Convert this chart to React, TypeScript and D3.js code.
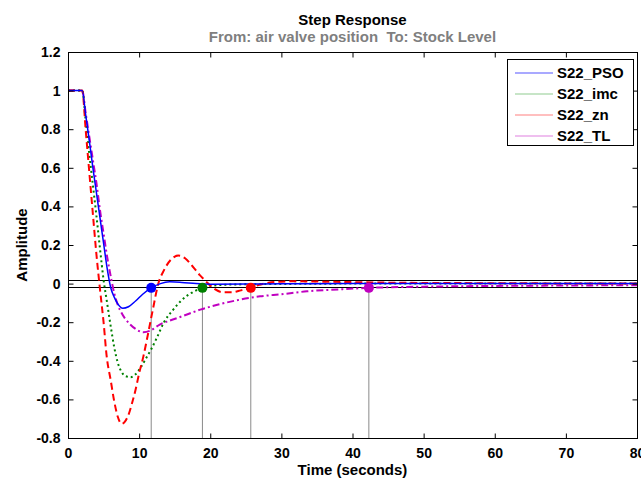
import { useEffect, useRef } from "react";
import * as d3 from "d3";

// step response samples (time in seconds, amplitude)
const psoT = [0, 2, 2.5, 3, 3.5, 4, 4.5, 5, 5.5, 6, 6.5, 7, 7.7, 8.5, 9.5, 10.5, 11.7, 13, 14.3, 16, 18, 20, 25, 30, 40, 60, 80];
const psoY = [1, 1, 0.87, 0.74, 0.6, 0.47, 0.34, 0.21, 0.08, -0.02, -0.07, -0.105, -0.128, -0.12, -0.09, -0.055, -0.022, 0.0, 0.009, 0.006, 0.0, -0.003, -0.002, -0.001, 0, 0, 0];

const imcT = [0, 2, 2.5, 3, 3.5, 4, 4.5, 5, 5.5, 6, 6.5, 7, 7.5, 8, 8.8, 9.5, 10.3, 11, 11.7, 12.5, 13.5, 14.8, 16, 17.5, 18.9, 20, 23, 30, 40, 80];
const imcY = [1, 1, 0.84, 0.67, 0.51, 0.35, 0.18, 0.02, -0.1, -0.22, -0.33, -0.41, -0.455, -0.478, -0.485, -0.47, -0.43, -0.385, -0.34, -0.28, -0.2, -0.135, -0.085, -0.045, -0.022, -0.012, -0.005, -0.002, 0, 0];

const znT = [0, 2, 2.5, 3, 3.5, 4, 4.5, 5, 5.44, 6, 6.5, 7, 7.55, 8, 8.5, 9, 9.5, 10, 10.6, 11.2, 11.9, 12.7, 13.5, 14.5, 15.5, 16.5, 17.5, 18.5, 19.3, 20.3, 21.8, 23, 24.3, 25.6, 27, 29, 32, 36, 45, 60, 80];
const znY = [1, 1, 0.79, 0.575, 0.36, 0.15, -0.03, -0.2, -0.377, -0.5, -0.61, -0.69, -0.727, -0.715, -0.68, -0.62, -0.55, -0.465, -0.377, -0.27, -0.14, 0.0, 0.07, 0.125, 0.145, 0.13, 0.09, 0.045, 0.015, -0.02, -0.045, -0.045, -0.035, -0.022, -0.005, 0.008, 0.012, 0.01, 0.005, 0.002, 0];

const tlT = [0, 2, 2.5, 3, 3.5, 4, 4.5, 5, 5.5, 6.1, 6.5, 7, 7.5, 8, 8.7, 9.5, 10.6, 11.5, 12.9, 14.3, 16, 18.6, 21, 24.2, 27, 30, 33.6, 38, 42.3, 50, 60, 70, 80];
const tlY = [1, 1, 0.88, 0.76, 0.64, 0.52, 0.38, 0.26, 0.14, 0.02, -0.05, -0.11, -0.15, -0.18, -0.21, -0.235, -0.252, -0.245, -0.212, -0.192, -0.17, -0.135, -0.11, -0.083, -0.066, -0.055, -0.04, -0.03, -0.022, -0.016, -0.012, -0.01, -0.008];

const seriesNames = ["S22_PSO", "S22_imc", "S22_zn", "S22_TL"];
const seriesColors = ["#0000ff", "#008000", "#ff0000", "#c000c0"];
const legendColors = ["#5555ff", "#8fcc8f", "#ff8080", "#e080e0"];
const seriesDash = ["", "2,3", "7,4", "7,3,2,3"];
const settleTimes = [11.7, 18.9, 25.7, 42.3];
const settleValue = -0.022;
const bandValues = [0.02, -0.02];

const xTicks = [0, 10, 20, 30, 40, 50, 60, 70, 80];
const yTicks = [-0.8, -0.6, -0.4, -0.2, 0, 0.2, 0.4, 0.6, 0.8, 1, 1.2];

const W = 641;
const H = 482;

const App = () => {
    const svgRef = useRef<SVGSVGElement>(null);
    const margin = { top: 52, right: 4, bottom: 44, left: 68 };

    useEffect(() => {
        const svg = d3.select(svgRef.current);
        svg.selectAll("*").remove();

        const x0 = margin.left;
        const x1 = W - margin.right;
        const y0 = margin.top;
        const y1 = H - margin.bottom;

        const xScale = d3.scaleLinear().domain([0, 80]).range([x0, x1]);
        const yScale = d3.scaleLinear().domain([-0.8, 1.2]).range([y1, y0]);

        const font = "'Liberation Sans', Arial, sans-serif";

        svg.append("rect").attr("width", W).attr("height", H).attr("fill", "#fff");

        // clip for curves
        svg.append("defs").append("clipPath").attr("id", "plotclip")
            .append("rect").attr("x", x0).attr("y", y0).attr("width", x1 - x0).attr("height", y1 - y0);

        const plot = svg.append("g").attr("clip-path", "url(#plotclip)");

        // settling time guide lines
        settleTimes.forEach((t) => {
            plot.append("line")
                .attr("x1", xScale(t)).attr("x2", xScale(t))
                .attr("y1", yScale(settleValue)).attr("y2", y1)
                .attr("stroke", "#8a8a8a").attr("stroke-width", 1);
        });

        // +-2% bands
        bandValues.forEach((v) => {
            plot.append("line")
                .attr("x1", x0).attr("x2", x1)
                .attr("y1", Math.round(yScale(v)) + 0.5).attr("y2", Math.round(yScale(v)) + 0.5)
                .attr("stroke", "#000").attr("stroke-width", 1);
        });

        const line = d3.line<[number, number]>()
            .x((d) => xScale(d[0]))
            .y((d) => yScale(d[1]))
            .curve(d3.curveMonotoneX);

        const allT = [psoT, imcT, znT, tlT];
        const allY = [psoY, imcY, znY, tlY];
        const order = [3, 1, 2, 0];
        order.forEach((i) => {
            const pts = allT[i].map((t, j) => [t, allY[i][j]] as [number, number]);
            plot.append("path")
                .attr("d", line(pts))
                .attr("fill", "none")
                .attr("stroke", seriesColors[i])
                .attr("stroke-width", i === 0 ? 1.5 : 2)
                .attr("stroke-dasharray", seriesDash[i] || null);
        });

        // settling markers
        settleTimes.forEach((t, i) => {
            plot.append("circle")
                .attr("cx", xScale(t)).attr("cy", yScale(settleValue))
                .attr("r", 5)
                .attr("fill", seriesColors[i]);
        });

        // axes box
        svg.append("rect")
            .attr("x", x0 + 0.5).attr("y", y0 + 0.5)
            .attr("width", x1 - x0).attr("height", y1 - y0)
            .attr("fill", "none").attr("stroke", "#000").attr("stroke-width", 1);

        const xAxis = d3.axisBottom(xScale).tickValues(xTicks).tickSize(-5).tickPadding(10).tickFormat(d3.format("d"));
        const yAxis = d3.axisLeft(yScale).tickValues(yTicks).tickSize(-5).tickPadding(8).tickFormat((d) => String(+(+d).toFixed(1)));

        const gx = svg.append("g").attr("transform", `translate(0, ${y1 + 0.5})`).call(xAxis);
        const gy = svg.append("g").attr("transform", `translate(${x0 + 0.5}, 0)`).call(yAxis);
        [gx, gy].forEach((g) => {
            g.select(".domain").remove();
            g.selectAll("text").attr("font-family", font).attr("font-weight", "bold").attr("font-size", 14).attr("fill", "#000");
            g.selectAll("line").attr("stroke", "#000");
        });

        // top and right ticks
        svg.append("g").attr("transform", `translate(0, ${y0 + 0.5})`)
            .call(d3.axisTop(xScale).tickValues(xTicks).tickSize(-5).tickFormat(() => ""))
            .call((g) => g.select(".domain").remove());
        svg.append("g").attr("transform", `translate(${x1 + 0.5}, 0)`)
            .call(d3.axisRight(yScale).tickValues(yTicks).tickSize(-5).tickFormat(() => ""))
            .call((g) => g.select(".domain").remove());

        // titles
        svg.append("text")
            .attr("x", (x0 + x1) / 2).attr("y", 25)
            .attr("text-anchor", "middle")
            .attr("font-family", font).attr("font-weight", "bold").attr("font-size", 15)
            .text("Step Response");
        svg.append("text")
            .attr("x", (x0 + x1) / 2).attr("y", 42)
            .attr("text-anchor", "middle")
            .attr("font-family", font).attr("font-weight", "bold").attr("font-size", 15)
            .attr("fill", "#7f7f7f")
            .text("From: air valve position  To: Stock Level")
            .attr("xml:space", "preserve")
            .style("white-space", "pre");

        svg.append("text")
            .attr("x", (x0 + x1) / 2).attr("y", 475)
            .attr("text-anchor", "middle")
            .attr("font-family", font).attr("font-weight", "bold").attr("font-size", 15)
            .text("Time (seconds)");
        svg.append("text")
            .attr("transform", "rotate(-90)")
            .attr("x", -(y0 + y1) / 2).attr("y", 27)
            .attr("text-anchor", "middle")
            .attr("font-family", font).attr("font-weight", "bold").attr("font-size", 15)
            .text("Amplitude");

        // legend
        const lg = svg.append("g");
        lg.append("rect")
            .attr("x", 507.5).attr("y", 59.5).attr("width", 126).attr("height", 86)
            .attr("fill", "#fff").attr("stroke", "#000").attr("stroke-width", 1);
        seriesNames.forEach((name, i) => {
            const yy = 73 + i * 21;
            lg.append("line")
                .attr("x1", 515).attr("x2", 553).attr("y1", yy).attr("y2", yy)
                .attr("stroke", legendColors[i]).attr("stroke-width", 1.2);
            lg.append("text")
                .attr("x", 557).attr("y", yy + 5)
                .attr("font-family", font).attr("font-weight", "bold").attr("font-size", 15)
                .text(name);
        });
    }, []);

    return (
        <svg
            ref={svgRef}
            width={W}
            height={H}
            viewBox={`0 0 ${W} ${H}`}
            style={{ position: "fixed", left: 0, top: 0 }}
        ></svg>
    );
};

export default App;
